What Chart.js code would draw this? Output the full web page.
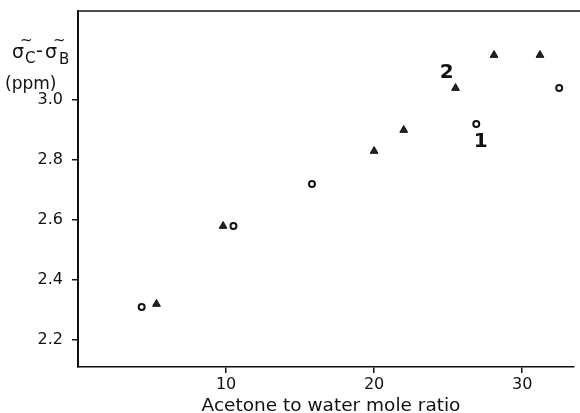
<!DOCTYPE html>
<html>
<head>
<meta charset="utf-8">
<script src="https://cdn.jsdelivr.net/npm/chart.js@4/dist/chart.umd.min.js"></script>
<style>
  html, body { margin: 0; padding: 0; background: #fff; }
  #wrap { width: 580px; height: 413px; position: relative; }
</style>
</head>
<body>
<div id="wrap"><canvas id="chart" width="580" height="413"></canvas></div>
<script>
// series 1 (open circles) and series 2 (triangles)
const circleX = [4.3, 10.5, 15.8, 26.9, 32.5];
const circleY = [2.31, 2.58, 2.72, 2.92, 3.04];
const triX = [5.3, 9.8, 20.0, 22.0, 25.5, 28.1, 31.2];
const triY = [2.32, 2.58, 2.83, 2.90, 3.04, 3.15, 3.15];

const xTicks = [10, 20, 30];
const yTicks = [2.2, 2.4, 2.6, 2.8, 3.0];

// curve labels placed in data coordinates
const noteText = ['2', '1'];
const noteX = [24.9, 27.2];
const noteY = [3.09, 2.86];

const xTitle = 'Acetone to water mole ratio';

const ink = '#111';

function toPoints(xs, ys) {
    return xs.map((x, i) => ({ x: x, y: ys[i] }));
}

// no extra space for tick labels at the ends of the axes
function noPad(s) {
    s.paddingTop = 0;
    s.paddingBottom = 0;
    s.paddingLeft = 0;
    s.paddingRight = 0;
}

// top frame line, axis titles and the "1" / "2" labels
const extras = {
    id: 'extras',
    afterDraw(chart) {
        const ctx = chart.ctx,
            area = chart.chartArea,
            xs = chart.scales.x,
            ys = chart.scales.y;
        ctx.save();
        ctx.strokeStyle = ink;
        ctx.lineWidth = 1.5;
        ctx.beginPath();
        ctx.moveTo(area.left, area.top);
        ctx.lineTo(chart.width, area.top);
        ctx.stroke();

        ctx.fillStyle = ink;
        ctx.textBaseline = 'alphabetic';
        ctx.textAlign = 'center';
        ctx.font = '18.5px "DejaVu Sans"';
        ctx.fillText(xTitle, 331, 411);

        // y title: sigma~C - sigma~B (ppm)
        ctx.textAlign = 'left';
        ctx.font = '19px "DejaVu Sans"';
        ctx.fillText('\u03c3', 12, 58);
        ctx.font = '15px "DejaVu Sans"';
        ctx.fillText('~', 20, 45);
        ctx.fillText('C', 25, 63);
        ctx.font = '19px "DejaVu Sans"';
        ctx.fillText('-', 36, 57);
        ctx.fillText('\u03c3', 45, 58);
        ctx.font = '15px "DejaVu Sans"';
        ctx.fillText('~', 53, 45);
        ctx.fillText('B', 59, 64);
        ctx.font = '17px "DejaVu Sans"';
        ctx.fillText('(ppm)', 5, 89);

        ctx.font = 'bold 20px "DejaVu Sans"';
        ctx.textAlign = 'center';
        ctx.textBaseline = 'middle';
        noteText.forEach((t, i) => {
            ctx.fillText(t, xs.getPixelForValue(noteX[i]), ys.getPixelForValue(noteY[i]));
        });
        ctx.restore();
    }
};

new Chart(document.getElementById('chart'), {
    type: 'scatter',
    data: {
        datasets: [{
            label: '1',
            data: toPoints(circleX, circleY),
            pointStyle: 'circle',
            pointRadius: 3,
            pointBorderWidth: 2,
            pointBackgroundColor: '#fff',
            pointBorderColor: ink,
        }, {
            label: '2',
            data: toPoints(triX, triY),
            pointStyle: 'triangle',
            pointRadius: 4.5,
            pointBorderWidth: 1,
            pointBackgroundColor: '#222',
            pointBorderColor: ink,
        }]
    },
    options: {
        responsive: false,
        animation: false,
        devicePixelRatio: 1,
        layout: { padding: { top: 11, right: 0, left: 0, bottom: 0 } },
        plugins: {
            legend: { display: false },
            tooltip: { enabled: false },
        },
        scales: {
            x: {
                type: 'linear',
                min: 0,
                max: 33.5,
                afterBuildTicks: s => { s.ticks = xTicks.map(v => ({ value: v })); },
                afterFit: s => { s.height = 46; noPad(s); },
                border: { color: ink, width: 1.5 },
                grid: { drawOnChartArea: false, drawTicks: true, tickLength: 6, color: ink, lineWidth: 1.5 },
                ticks: {
                    color: ink,
                    padding: 2,
                    font: { family: 'DejaVu Sans', size: 16 },
                    callback: v => v,
                },
            },
            y: {
                type: 'linear',
                min: 2.11,
                max: 3.297,
                afterBuildTicks: s => { s.ticks = yTicks.map(v => ({ value: v })); },
                afterFit: s => { s.width = 78; noPad(s); },
                border: { color: ink, width: 2 },
                grid: { drawOnChartArea: false, drawTicks: true, tickLength: 6, color: ink, lineWidth: 1.5 },
                ticks: {
                    color: ink,
                    padding: 9,
                    font: { family: 'DejaVu Sans', size: 16 },
                    callback: v => v.toFixed(1),
                },
            }
        }
    },
    plugins: [extras],
});
</script>
</body>
</html>
